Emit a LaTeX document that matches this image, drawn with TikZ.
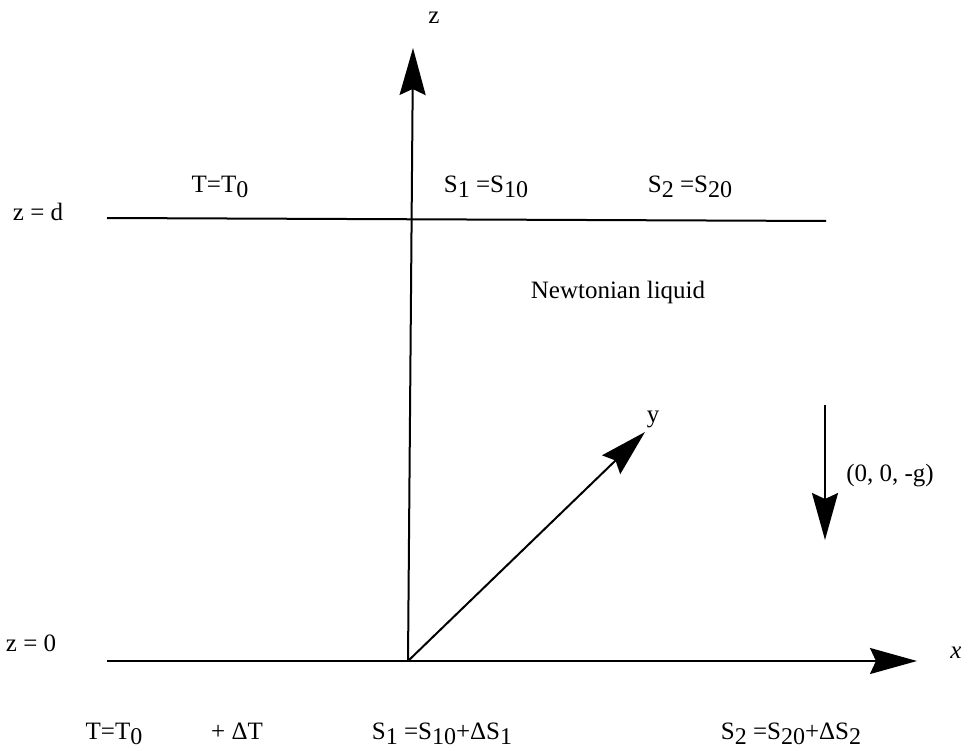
\documentclass[tikz,border=0pt]{standalone}
\usepackage{fontspec}
\setmainfont{Liberation Serif}
\usetikzlibrary{arrows.meta}
\newcommand{\lowr}[1]{\raisebox{-0.4ex}{\fontsize{24}{24}\selectfont #1}}
\tikzset{
  axis/.style={line width=2pt, -{Stealth[length=47pt,width=26pt,inset=6pt]}},
  plain/.style={line width=2pt},
  lbl/.style={inner sep=0pt, font=\fontsize{25}{30}\selectfont}
}
\begin{document}
\begin{tikzpicture}[x=1pt,y=-1pt]
\useasboundingbox (0,0) rectangle (971,751);
\coordinate (O) at (408,661);
\coordinate (ztip) at (413,48);
\coordinate (ytip) at (645,432);
\coordinate (xstart) at (107,661);
\coordinate (xtip) at (917,661);
\coordinate (dl) at (107,218);
\coordinate (dr) at (826,221);
\coordinate (gtop) at (825,405);
\coordinate (gtip) at (825,540);
\draw[axis] (O) -- (ztip);
\draw[axis] (O) -- (ytip);
\draw[axis] (xstart) -- (xtip);
\draw[plain] (dl) -- (dr);
\draw[axis] (gtop) -- (gtip);
\node[lbl] (zl) at (434,18) {z};
\node[lbl] (yl) at (653,419) {y};
\node[lbl] (xl) at (956,653) {\itshape x};
\node[lbl] (zd) at (38,212) {z = d};
\node[lbl] (z0) at (31,643) {z = 0};
\node[lbl] (Ttop) at (220,187) {T=T\lowr{0}};
\node[lbl] (S1top) at (486,187) {S\lowr{1} =S\lowr{10}};
\node[lbl] (S2top) at (690,187) {S\lowr{2} =S\lowr{20}};
\node[lbl] (liq) at (618,292) {Newtonian liquid};
\node[lbl] (g) at (890,476) {(0, 0, -g)};
\node[lbl] (Tbot) at (114,734) {T=T\lowr{0}};
\node[lbl] (dT) at (237,731) {+ ΔT};
\node[lbl] (S1bot) at (442,734) {S\lowr{1} =S\lowr{10}+ΔS\lowr{1}};
\node[lbl] (S2bot) at (791,734) {S\lowr{2} =S\lowr{20}+ΔS\lowr{2}};
\end{tikzpicture}
\end{document}
